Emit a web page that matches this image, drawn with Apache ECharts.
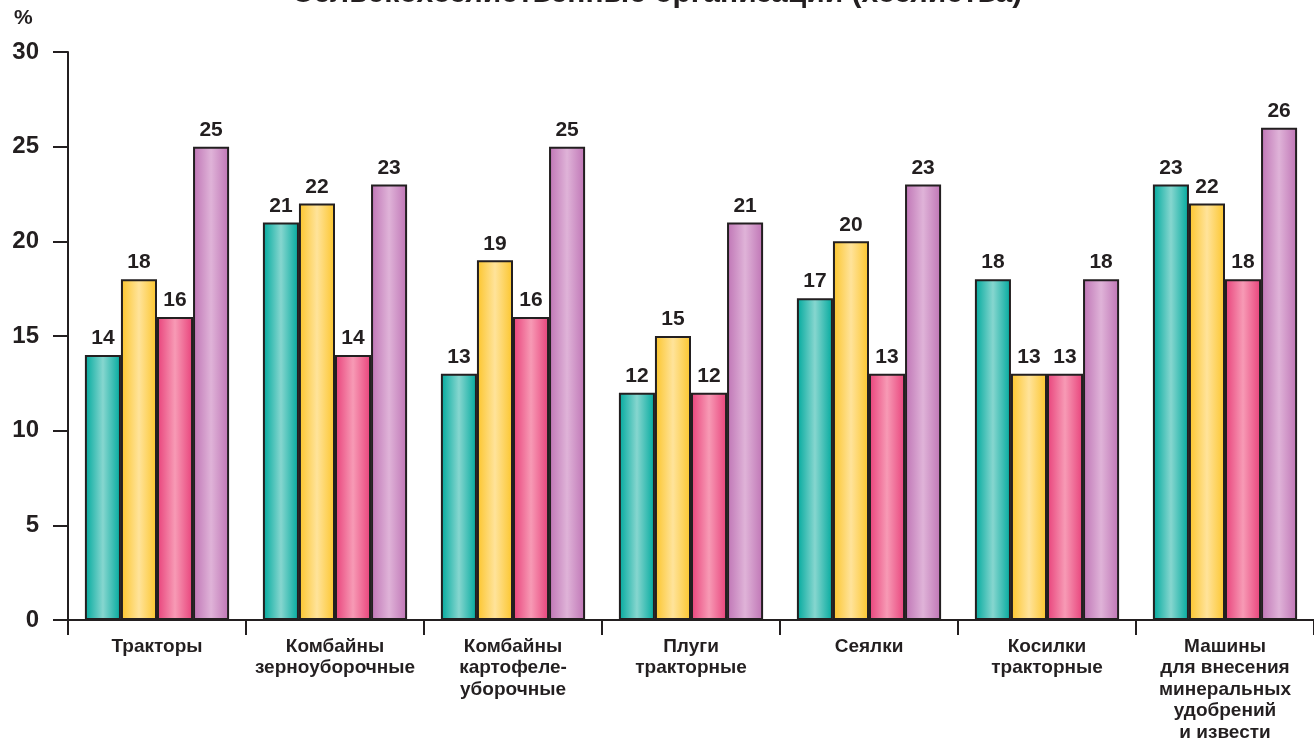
<!DOCTYPE html>
<html><head><meta charset="utf-8">
<script src="https://cdn.jsdelivr.net/npm/echarts@6/dist/echarts.min.js"></script>
<style>html,body{margin:0;padding:0;background:#fff}#c{width:1314px;height:740px}</style>
</head><body><div id="c"></div>
<script>
const categories = ['Тракторы','Комбайны\nзерноуборочные','Комбайны\nкартофеле-\nуборочные','Плуги\nтракторные','Сеялки','Косилки\nтракторные','Машины\nдля внесения\nминеральных\nудобрений\nи извести'];
const series1 = [14,21,13,12,17,18,23];
const series2 = [18,22,19,15,20,13,22];
const series3 = [16,14,16,12,13,13,18];
const series4 = [25,23,25,21,23,18,26];
const yTicks = [0,5,10,15,20,25,30];
const titleText = 'Сельскохозяйственные организации (хозяйства)';

const palettes = [
  ['#00a99d','#86d6cf'],
  ['#fcc52b','#ffe39a'],
  ['#e8417a','#f79ab5'],
  ['#bf74b5','#dfb3d8']
];
function grad(p){
  return new echarts.graphic.LinearGradient(0,0,1,0,[
    {offset:0,color:p[0]},{offset:0.5,color:p[1]},{offset:1,color:p[0]}]);
}
const font = '"Liberation Sans", Arial, sans-serif';
const ink = '#231f20';
const chart = echarts.init(document.getElementById('c'));
const data = [series1,series2,series3,series4];
chart.setOption({
  animation:false,
  title:{text:titleText,left:'center',top:-26,textStyle:{fontFamily:font,fontWeight:'bold',fontSize:30,color:ink}},
  graphic:[{type:'text',left:14,top:8,style:{text:'%',font:'bold 21px '+font,fill:ink}}],
  grid:{left:68,right:0,top:52,bottom:120,containLabel:false,outerBoundsMode:'none'},
  xAxis:{type:'category',data:categories,
    axisLine:{lineStyle:{color:ink,width:2}},
    axisTick:{show:true,length:15,lineStyle:{color:ink,width:2}},
    axisLabel:{interval:0,margin:16,fontFamily:font,fontWeight:'bold',fontSize:19,lineHeight:21.5,color:ink,verticalAlign:'top'}
  },
  yAxis:{type:'value',min:0,max:30,interval:5,
    axisLine:{show:true,lineStyle:{color:ink,width:2}},
    axisTick:{show:true,length:15,lineStyle:{color:ink,width:2}},
    splitLine:{show:false},
    axisLabel:{margin:29,fontFamily:font,fontWeight:'bold',fontSize:24,color:ink,
      formatter:v=>yTicks.includes(v)?String(v):''}
  },
  series:data.map((d,i)=>({
    type:'bar',name:'Ряд '+(i+1),data:d,
    barGap:'0%',barCategoryGap:'19%',
    itemStyle:{color:grad(palettes[i]),borderColor:ink,borderWidth:2},
    label:{show:true,position:'top',distance:6,fontFamily:font,fontWeight:'bold',fontSize:21,color:ink}
  }))
});
</script></body></html>
